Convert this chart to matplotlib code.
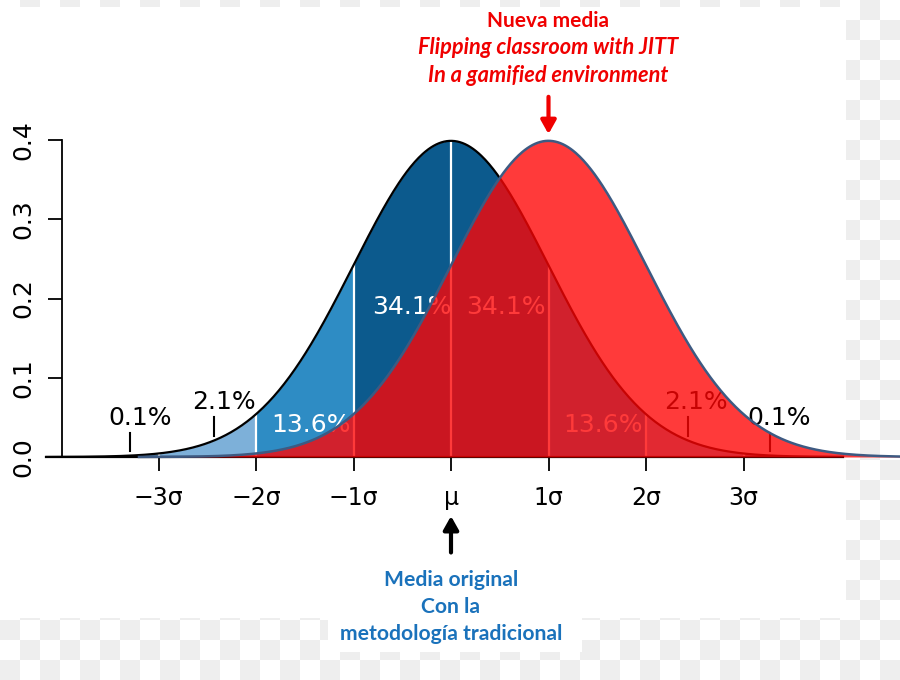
import numpy as np
import matplotlib
matplotlib.use("Agg")
import matplotlib.pyplot as plt

# ---------------- data ----------------
sigma_ticks = [-3, -2, -1, 0, 1, 2, 3]
sigma_labels = ["\u22123\u03c3", "\u22122\u03c3", "\u22121\u03c3", "\u03bc", "1\u03c3", "2\u03c3", "3\u03c3"]
y_ticks = [0.0, 0.1, 0.2, 0.3, 0.4]
y_labels = ["0.0", "0.1", "0.2", "0.3", "0.4"]

orig_mean = 0.0          # original mean (traditional method)
new_mean = 1.0           # new mean (flipped classroom), shifted by 1 sigma
band_edges = [-4.15, -3, -2, -1, 0, 1, 2, 3, 4.02]
band_colors = ["#4f7fa6", "#7db0d9", "#2e8cc4", "#0c5a8d", "#0c5a8d", "#2e8cc4", "#7db0d9", "#4f7fa6"]

pct_labels = ["0.1%", "2.1%", "13.6%", "34.1%", "34.1%", "13.6%", "2.1%", "0.1%"]
pct_x = [-3.19, -2.33, -1.44, -0.40, 0.56, 1.56, 2.51, 3.37]
pct_y = [0.049, 0.070, 0.040, 0.189, 0.189, 0.040, 0.070, 0.049]
pct_colors = ["black", "black", "white", "white", "white", "white", "black", "black"]
marker_x = [-3.29, -2.43, 2.43, 3.27]
marker_y0 = [0.007, 0.026, 0.026, 0.007]
marker_y1 = [0.030, 0.050, 0.050, 0.030]

red_title = ["Nueva media", "Flipping classroom with JITT", "In a gamified environment"]
blue_title = ["Media original", "Con la", "metodolog\u00eda tradicional"]


def pdf(x, mu):
    return np.exp(-0.5 * (x - mu) ** 2) / np.sqrt(2 * np.pi)


W, H = 900, 680
fig = plt.figure(figsize=(9, 6.8), dpi=100)

# ---------------- faint checkerboard background ----------------
bg = np.ones((H, W, 3))
yy, xx = np.mgrid[0:H, 0:W]
checker = ((yy // 20 + xx // 20) % 2 == 1)
bg[checker] = 0.937
mask_white = np.zeros((H, W), bool)
mask_white[7:618, 0:846] = True
mask_white[618:652, 328:582] = True
bg[mask_white] = 1.0
bax = fig.add_axes([0, 0, 1, 1], zorder=-10)
bax.imshow(bg, extent=[0, W, H, 0], aspect="auto", interpolation="nearest")
bax.set_axis_off()

# ---------------- main axes ----------------
x0, x1 = -4.5, 4.6
px_per_sigma = 97.5
mu_px = 451.0
left_px = mu_px + x0 * px_per_sigma
right_px = mu_px + x1 * px_per_sigma
ylo, yhi = 0.0, 0.42
px_per_unit = 792.5
base_px = 457.0
top_px = base_px - yhi * px_per_unit
ax = fig.add_axes([left_px / W, (H - base_px) / H, (right_px - left_px) / W, (base_px - top_px) / H])
ax.set_xlim(x0, x1)
ax.set_ylim(ylo, yhi)
ax.patch.set_alpha(0)

for s in ["top", "right", "bottom"]:
    ax.spines[s].set_visible(False)
ax.spines["left"].set_position(("data", -3.99))
ax.spines["left"].set_bounds(0, 0.4)
ax.spines["left"].set_linewidth(1.3)

ax.set_xticks(sigma_ticks)
ax.set_xticklabels(sigma_labels, fontsize=17, family="DejaVu Sans")
ax.set_yticks(y_ticks)
ax.set_yticklabels(y_labels, fontsize=18, rotation=90, va="center", family="DejaVu Sans")
ax.tick_params(axis="x", length=10, width=1.3, pad=11)
ax.tick_params(axis="y", length=10, width=1.3, pad=9)

# baseline
ax.plot([band_edges[0], band_edges[-1]], [0, 0], color="black", lw=1.6, zorder=5, clip_on=False)

# original distribution bands
for i in range(len(band_colors)):
    xs = np.linspace(band_edges[i], band_edges[i + 1], 200)
    ax.fill_between(xs, 0, pdf(xs, orig_mean), color=band_colors[i], lw=0, zorder=2)
for e in band_edges[1:-1]:
    ax.plot([e, e], [0, pdf(e, orig_mean)], color="white", lw=1.6, zorder=3)
xs = np.linspace(band_edges[0], band_edges[-1], 600)
ax.plot(xs, pdf(xs, orig_mean), color="black", lw=1.6, zorder=4)

for lab, x, y, c in zip(pct_labels, pct_x, pct_y, pct_colors):
    ax.text(x, y, lab, color=c, fontsize=18, ha="center", va="center", zorder=4, family="DejaVu Sans")
for x, a, b in zip(marker_x, marker_y0, marker_y1):
    ax.plot([x, x], [a, b], color="black", lw=1.5, zorder=4)

# shifted (new) distribution, translucent red overlay
xr = np.linspace(-3.2, 4.6, 600)
ax.fill_between(xr, 0, pdf(xr, new_mean), color=(1.0, 0.016, 0.016), alpha=0.784, lw=0, zorder=6, clip_on=False)
ax.plot(xr, pdf(xr, new_mean), color="#3d5a82", lw=1.8, zorder=7, clip_on=False)

# arrows
ax.annotate("", xy=(new_mean, 0.404), xytext=(new_mean, 0.458), xycoords="data",
            arrowprops=dict(arrowstyle="-|>,head_width=0.45,head_length=0.8", color="#f00000", lw=3),
            annotation_clip=False, zorder=8)
ax.annotate("", xy=(orig_mean, -0.071), xytext=(orig_mean, -0.124), xycoords="data",
            arrowprops=dict(arrowstyle="-|>,head_width=0.45,head_length=0.8", color="black", lw=3),
            annotation_clip=False, zorder=8)

# annotation texts
red_y = [21, 48, 75]
red_size = [15, 15.7, 15.7]
for i, (t, y) in enumerate(zip(red_title, red_y)):
    fig.text(548 / W, 1 - y / H, t, color="#f00000", fontsize=red_size[i], ha="center", va="center",
             family="Lato", weight="bold", style="normal" if i == 0 else "italic")
blue_y = [580, 607, 634]
for t, y in zip(blue_title, blue_y):
    fig.text(451 / W, 1 - y / H, t, color="#1a72bb", fontsize=15.2, ha="center", va="center",
             family="Lato", weight="bold")

fig.savefig("out.png", dpi=100)
